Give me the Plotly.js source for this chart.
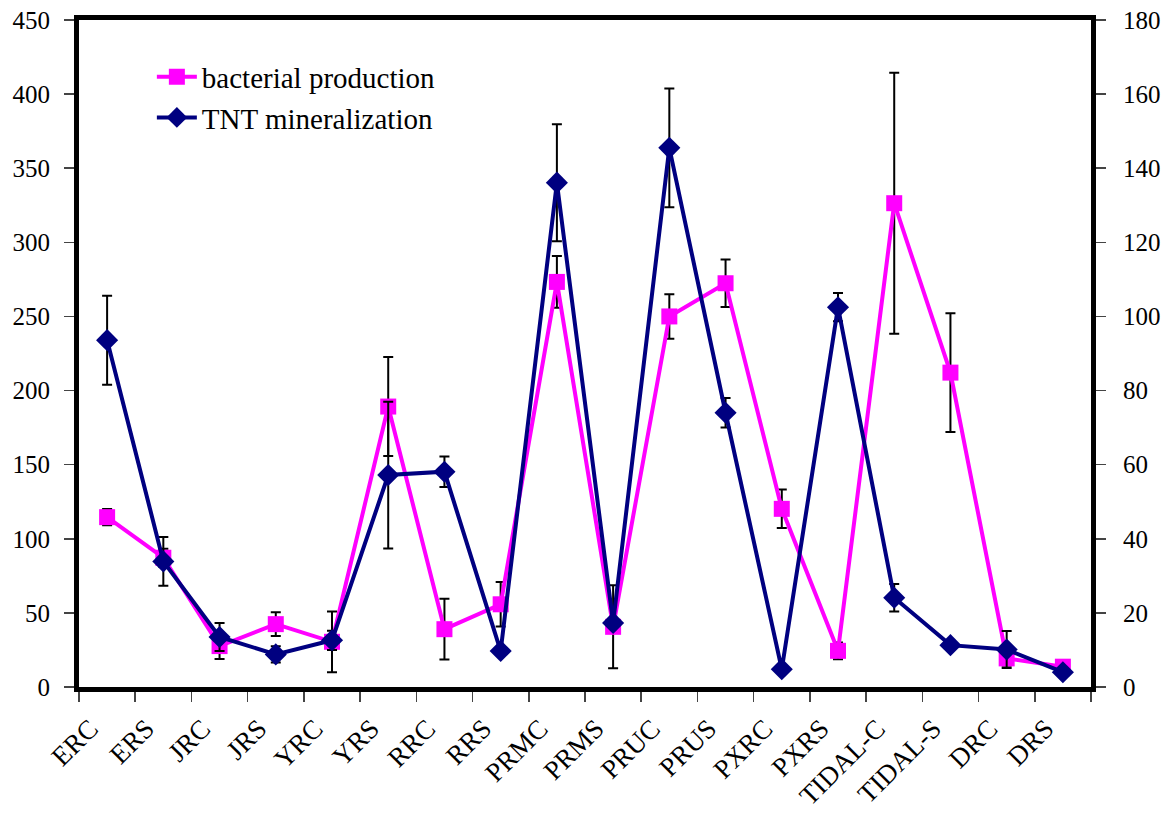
<!DOCTYPE html>
<html>
<head>
<meta charset="utf-8">
<script src="https://cdn.plot.ly/plotly-3.0.1.min.js"></script>
<style>html,body{margin:0;padding:0;background:#fff;}#chart{width:1167px;height:814px;}</style>
</head>
<body>
<div id="chart"></div>
<script>
const sites = ["ERC","ERS","JRC","JRS","YRC","YRS","RRC","RRS","PRMC","PRMS","PRUC","PRUS","PXRC","PXRS","TIDAL-C","TIDAL-S","DRC","DRS"];
const bacterialProduction = [114.6, 87.2, 27.6, 42.4, 30.5, 189.2, 39, 55.8, 273.3, 40.6, 250, 272.4, 120.2, 24.4, 326.4, 212.1, 19.3, 13.7];
const bacterialError = [5.5, 6, 8.7, 8, 20.5, 33.4, 20.5, 15, 17.4, 28, 15, 16, 13, 5.7, 88, 40, 5, 2];
const tntMineralization = [93.6, 33.9, 13.5, 8.8, 12.6, 57.2, 58.1, 9.7, 136.1, 17.3, 145.5, 74, 4.8, 102.5, 24.1, 11.3, 10.1, 4];
const tntError = [12, 6.6, 3.8, 2.2, 2.6, 19.8, 4.1, 0, 15.8, 0, 16, 4, 0, 3.8, 3.7, 0, 5, 0];
const leftTicks = [0, 50, 100, 150, 200, 250, 300, 350, 400, 450];
const rightTicks = [0, 20, 40, 60, 80, 100, 120, 140, 160, 180];

const FONT = "Liberation Serif";

const traces = [
  {
    x: sites, y: bacterialProduction, type: "scatter", mode: "lines+markers",
    name: "bacterial production",
    line: {color: "#FF00FF", width: 4},
    marker: {symbol: "square", size: 16, color: "#FF00FF"},
    error_y: {type: "data", array: bacterialError, visible: true, color: "#000", thickness: 2, width: 5},
    yaxis: "y"
  },
  {
    x: sites, y: tntMineralization, type: "scatter", mode: "lines+markers",
    name: "TNT mineralization",
    line: {color: "#000080", width: 4},
    marker: {symbol: "diamond", size: 17, color: "#000080"},
    error_y: {type: "data", array: tntError, visible: true, color: "#000", thickness: 2, width: 5},
    yaxis: "y2"
  }
];

const layout = {
  width: 1167, height: 814,
  margin: {l: 79, r: 76, t: 20, b: 127},
  paper_bgcolor: "#fff", plot_bgcolor: "#fff",
  font: {family: FONT, size: 26, color: "#000"},
  showlegend: true,
  legend: {x: 0.072, y: 0.953, xanchor: "left", yanchor: "top", bgcolor: "rgba(0,0,0,0)",
           font: {family: FONT, size: 29, color: "#000"}, tracegroupgap: 0, itemwidth: 40},
  xaxis: {
    type: "category", range: [-0.5, 17.5], tickson: "boundaries",
    ticks: "outside", ticklen: 10, tickwidth: 1.5, tickcolor: "#444",
    tickangle: -45, tickfont: {family: FONT, size: 27, color: "#000"},
    ticklabelstandoff: 10, ticklabelshift: -17,
    showline: true, linewidth: 5, linecolor: "#000", mirror: true,
    showgrid: false, zeroline: false, fixedrange: true
  },
  yaxis: {
    range: [0, 450], tickvals: leftTicks, ticktext: leftTicks.map(String),
    ticks: "outside", ticklen: 10, tickwidth: 1.5, tickcolor: "#444",
    tickfont: {family: FONT, size: 25, color: "#000"},
    ticklabelstandoff: 9,
    showline: true, linewidth: 5, linecolor: "#000", mirror: true,
    showgrid: false, zeroline: false, fixedrange: true
  },
  yaxis2: {
    range: [0, 180], tickvals: rightTicks, ticktext: rightTicks.map(String),
    overlaying: "y", side: "right",
    ticks: "outside", ticklen: 10, tickwidth: 1.5, tickcolor: "#444",
    tickfont: {family: FONT, size: 25, color: "#000"},
    ticklabelstandoff: 12,
    showline: true, linewidth: 5, linecolor: "#000",
    showgrid: false, zeroline: false, fixedrange: true
  }
};

Plotly.newPlot("chart", traces, layout, {displayModeBar: false, staticPlot: true});
</script>
</body>
</html>
